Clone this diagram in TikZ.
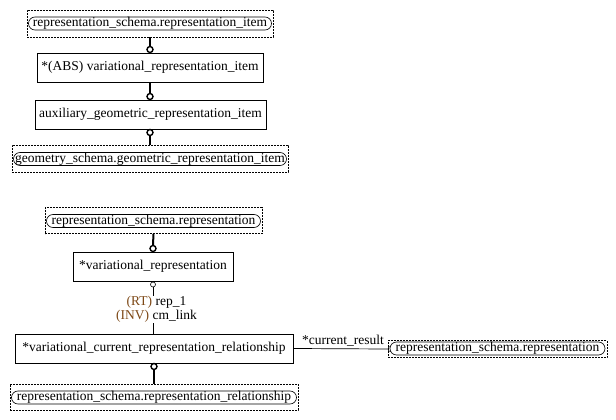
\documentclass[tikz,border=0pt]{standalone}
\usepackage{fontspec}
\setmainfont{Liberation Serif}
\definecolor{rolebrown}{RGB}{125,72,22}
\begin{document}
\begin{tikzpicture}[x=1pt,y=-1pt,
  txt/.style={font=\fontsize{13.5}{15.5}\selectfont},
  ent/.style={txt, draw, line width=0.8pt, minimum height=29pt, inner sep=0pt},
  extouter/.style={draw, dash pattern=on 2pt off 1pt, line width=0.6pt, inner sep=0pt},
  extinner/.style={txt, draw, fill=white, rounded corners=6.5pt, line width=0.6pt, inner sep=0pt, minimum height=13pt},
  tlink/.style={line width=2pt},
  nlink/.style={line width=0.7pt},
  ring/.style={circle, draw, line width=1.4pt, fill=white, minimum size=6pt, inner sep=0pt},
  thinring/.style={circle, draw, line width=0.6pt, fill=white, minimum size=5pt, inner sep=0pt},
]
\useasboundingbox (0,0) rectangle (616,420);

% ---------- group 1 ----------
\node[extouter, minimum width=246pt, minimum height=27pt] (A) at (150,23.5) {};
\node[extinner, minimum width=243pt] (Ai) at (150,23.5) {representation\_schema.representation\_item};
\node[ent, minimum width=226pt] (B) at (150,67.5) {*(ABS) variational\_representation\_item};
\node[ent, minimum width=231pt] (C) at (150.5,114.5) {auxiliary\_geometric\_representation\_item};
\node[extouter, minimum width=276pt, minimum height=27pt] (D) at (150,158.5) {};
\node[extinner, minimum width=273pt] (Di) at (150,159) {geometry\_schema.geometric\_representation\_item};

\node[ring] (r1) at (150,49.5) {};
\node[ring] (r2) at (150,96.5) {};
\node[ring] (r3) at (150,132.5) {};
\draw[tlink] (A.south) -- (r1.north);
\draw[tlink] (B.south) -- (r2.north);
\draw[tlink] (r3.south) -- (r3.south |- D.north);

% ---------- group 2 ----------
\node[extouter, minimum width=217pt, minimum height=26pt] (E) at (153.5,220.5) {};
\node[extinner, minimum width=214pt] (Ei) at (153.5,221) {representation\_schema.representation};
\node[ent, minimum width=160pt] (F) at (153,266.5) {*variational\_representation};
\node[ent, minimum width=278pt] (G) at (154,348.5) {*variational\_current\_representation\_relationship};
\node[extouter, minimum width=288pt, minimum height=26pt] (H) at (154,397) {};
\node[extinner, minimum width=285pt] (Hi) at (154,397.5) {representation\_schema.representation\_relationship};

\node[ring] (r4) at (153,248.5) {};
\draw[tlink] (E.south) -- (r4.north);
\node[thinring] (t1) at (153,284.5) {};
\draw[nlink] (t1.south) -- (t1.south |- G.north);
\node[txt, fill=white, inner sep=0.5pt, align=center] (lab) at (156.5,309.5)
  {\textcolor{rolebrown}{(RT)} rep\_1\\[-1pt]\textcolor{rolebrown}{(INV)} cm\_link};
\node[ring] (r5) at (154,366.5) {};
\draw[tlink] (r5.south) -- (r5.south |- H.north);

% current_result
\node[thinring] (t2) at (390.5,349) {};
\draw[nlink] (G.east) -- (t2.west);
\node[extouter, minimum width=219pt, minimum height=17pt] (K) at (497.5,349) {};
\node[extinner, minimum width=215pt] (Ki) at (497.5,348.5) {representation\_schema.representation};
\node[txt, anchor=south, inner sep=0pt] (cr) at (343,346.5) {*current\_result};
\end{tikzpicture}
\end{document}
